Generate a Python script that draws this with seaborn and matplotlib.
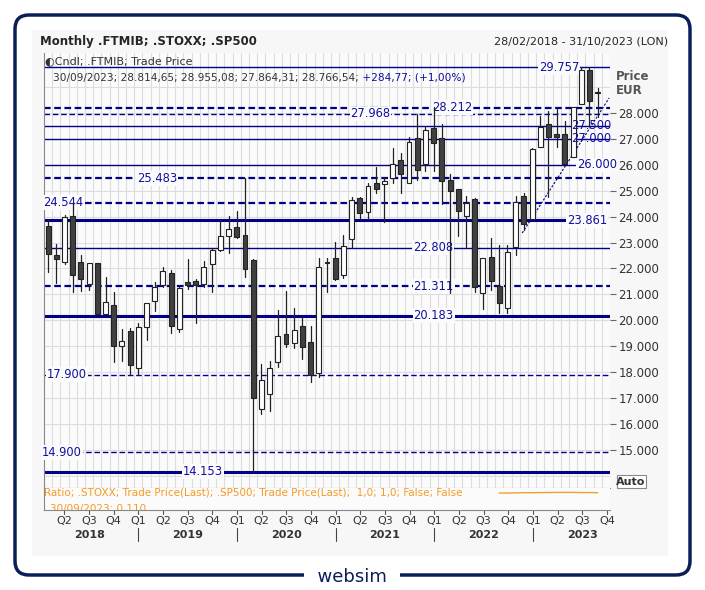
import matplotlib
matplotlib.use("Agg")
import matplotlib.pyplot as plt
from matplotlib.patches import FancyBboxPatch, Rectangle
import seaborn as sns
import pandas as pd
import numpy as np

sns.set_style("white")
plt.rcParams['font.family'] = ['DejaVu Sans']

months = pd.date_range("2018-02-01", "2023-09-01", freq="MS").strftime("%Y-%m").tolist()
opens = [23640,22505,22260,24025,22235,21385,22210,20240,20590,18990,19580,18170,
         19725,20755,21360,21810,19650,21460,21500,21385,22160,22710,23265,23600,
         23290,22325,16585,17140,18400,19455,19110,19780,19150,17950,22235,22390,
         21730,23120,24705,24190,25310,25245,25505,26185,25285,27020,26020,27410,
         27020,25415,25050,24036,24680,21037,22450,21320,20458,22840,24795,23894,
         26700,27575,27189,27189,26288,28347,29660,28814.65]
highs = [23870,22943,24060,24550,22520,22220,22210,21680,21080,19660,19710,19880,
         20665,21460,22070,21940,21270,22350,21580,22290,22780,23870,24020,24220,
         25480,22350,18310,18425,20395,21130,20485,20140,19780,22400,22390,23030,
         23300,24770,24770,25285,25900,25540,26660,26445,27085,27950,27470,28245,
         27575,25645,25050,24795,24705,22400,23160,22900,22900,24795,24898,26640,
         27880,28077,28141,27700,28218,29763,29763,28955.08]
lows = [21875,21450,22170,21100,21140,21170,20240,20240,18390,18430,17885,17940,
        19250,20370,21270,19520,19560,21220,19900,21300,21100,22670,22580,23190,
        21680,14150,16370,16510,18210,18980,18940,18515,17600,17795,21080,21550,
        21630,22775,23910,23910,24900,23805,25285,24925,25285,25415,25760,25760,
        24490,21040,23250,22840,21100,20420,21166,20265,20265,22517,23482,23894,
        26674,24743,26674,26030,26288,28347,27500,27864.31]
closes = [22557,22380,23970,21760,21600,22200,20240,20690,19020,19185,18280,19725,
          20665,21300,21900,19790,21230,21360,21380,22070,22700,23240,23510,23230,
          21960,17010,17680,18170,19390,19070,19610,18980,17900,22040,22195,21580,
          22865,24640,24130,25180,25080,25375,26020,25645,26880,25800,27345,26830,
          25390,25000,24230,24510,21295,22388,21526,20650,22646,24576,23714,26597,
          27470,27085,27060,26030,28218,29660,28482,28766.54]

level_values = [29757, 28212, 27968, 27500, 27000, 26000, 25483, 24544, 23861,
                22808, 21311, 20183, 17900, 14900, 14153]
level_labels = ["29.757", "28.212", "27.968", "27.500", "27.000", "26.000", "25.483",
                "24.544", "23.861", "22.808", "21.311", "20.183", "17.900", "14.900", "14.153"]
trend_x = [57.8, 68.4]
trend_y = [23368, 28580]
ratio_months = list(range(55, 68))
ratio_vals = [0.108, 0.108, 0.109, 0.110, 0.110, 0.111, 0.111, 0.112, 0.112, 0.112, 0.111, 0.111, 0.110]
ytick_vals = list(range(15000, 28001, 1000))
q_labels = ["Q2", "Q3", "Q4", "Q1"] * 5 + ["Q2", "Q3", "Q4"]
years = ["2018", "2019", "2020", "2021", "2022", "2023"]

df = pd.DataFrame({"m": months, "o": opens, "h": highs, "l": lows, "c": closes})
df["i"] = np.arange(len(df))

W, H = 705, 590
fig = plt.figure(figsize=(W/100, H/100), dpi=100)
fig.patch.set_facecolor("white")
NAVY = "#0a1e5a"
BLUE = "#1010a0"

def fx(px): return px / W
def fy(py): return 1 - py / H

bg = fig.add_axes([0, 0, 1, 1], zorder=-10)
bg.set_xlim(0, W); bg.set_ylim(H, 0); bg.axis("off")
bg.add_patch(FancyBboxPatch((15, 15), 675, 560, boxstyle="round,pad=0,rounding_size=14",
                            fc="white", ec=NAVY, lw=2.5))
bg.add_patch(Rectangle((32, 30), 636, 526, fc="#f7f7f7", ec="none"))
bg.text(40, 42, "Monthly .FTMIB; .STOXX; .SP500", fontsize=8.5, fontweight="bold", va="center")
bg.text(668, 42, "28/02/2018 - 31/10/2023 (LON)", fontsize=8, ha="right", va="center")
bg.text(616, 76, "Price", fontsize=8.5, fontweight="bold", color="#555555", va="center")
bg.text(616, 91, "EUR", fontsize=8.5, fontweight="bold", color="#555555", va="center")
bg.add_patch(Rectangle((617, 475), 29, 13, fc="white", ec="#888888", lw=0.8))
bg.text(631, 482, "Auto", fontsize=8, fontweight="bold", color="#333333", ha="center", va="center")
bg.text(352, 577, "  websim  ", fontsize=13, color=NAVY, ha="center", va="center",
        bbox=dict(fc="white", ec="none", pad=1))

ax = fig.add_axes([fx(44), fy(488), fx(610-44), (488-53)/H])
ax.set_facecolor("#fbfbfb")
XL = (-0.5, 68.5)
ax.set_xlim(*XL)
ax.set_ylim(13525, 30316)
for k in range(-1, 69):
    ax.axvline(k + 0.5, color="#dddddd", lw=0.8, zorder=0)
for v in ytick_vals + [14000, 29000]:
    ax.axhline(v, color="#dddddd", lw=0.8, zorder=0)

styles = {
    29757: ("-", 1.0, 1.0), 28212: ("--", 1.6, 1.0), 27968: ("--", 1.0, 1.0),
    27500: ("-", 1.0, 1.0), 27000: ("-", 1.0, 1.0), 26000: ("-", 1.0, 1.0),
    25483: ("--", 1.6, 1.0), 24544: ("--", 1.6, 1.0), 23861: ("-", 2.2, 0.94),
    22808: ("-", 1.0, 1.0), 21311: ("--", 1.6, 1.0), 20183: ("-", 2.2, 1.0),
    17900: ("--", 1.0, 1.0), 14900: ("--", 1.0, 1.0), 14153: ("-", 2.2, 1.0)}
label_x = {29757: 62.3, 28212: 49.3, 27968: 39.3, 27500: 66.2, 27000: 66.2, 26000: 66.9,
           25483: 13.3, 24544: 1.9, 23861: 65.7, 22808: 46.9, 21311: 47.0, 20183: 47.0,
           17900: 2.3, 14900: 1.7, 14153: 18.9}
on_top = {27500, 27000}
for v, lab in zip(level_values, level_labels):
    ls, lw, xmax = styles[v]
    dashes = (3, 1.6) if lw > 1.2 else (4, 2)
    line, = ax.plot([XL[0], XL[0] + (XL[1]-XL[0]) * xmax], [v, v], color="#000088", lw=lw, zorder=2)
    if ls == "--":
        line.set_dashes(dashes)
    if v in on_top:
        ax.text(label_x[v], v, lab, color=BLUE, fontsize=8.3, ha="center", va="center", zorder=8)
    else:
        ax.text(label_x[v], v, lab, color=BLUE, fontsize=8.3, ha="center", va="center", zorder=3,
                bbox=dict(fc="#fbfbfb", ec="none", pad=0.6), clip_on=False)

ax.plot(trend_x, trend_y, color="#000088", lw=0.8, ls=(0, (2, 1.5)), zorder=4)

for _, r in df.iterrows():
    up = r.c >= r.o
    ax.plot([r.i, r.i], [r.l, r.h], color="#222222", lw=0.9, zorder=5)
    lo, hi = min(r.o, r.c), max(r.o, r.c)
    hgt = max(hi - lo, 40)
    ax.add_patch(Rectangle((r.i - 0.3, lo), 0.6, hgt, fc="white" if up else "#404040",
                           ec="#222222", lw=0.8, zorder=6))

ax.yaxis.tick_right()
ax.set_yticks(ytick_vals)
ax.set_yticklabels([f"{v:,}".replace(",", ".") for v in ytick_vals], fontsize=8.5, color="#333333")
ax.tick_params(axis="y", length=4, color="#666666", pad=2)
ax.set_xticks([])
for s in ["top", "right"]:
    ax.spines[s].set_visible(False)
ax.spines["left"].set_color("#888888")
ax.spines["bottom"].set_color("#888888")
ax.text(0.002, 0.992, "\u25d0Cndl; .FTMIB; Trade Price", transform=ax.transAxes, fontsize=8,
        va="top", color="#333333")
t = ax.text(0.016, 0.955, "30/09/2023; 28.814,65; 28.955,08; 27.864,31; 28.766,54;",
            transform=ax.transAxes, fontsize=7.6, va="top", color="#333333")
ax.annotate(" +284,77; (+1,00%)", xy=(1, 0), xycoords=t, va="bottom", ha="left",
            fontsize=7.6, color=BLUE)

ax2 = fig.add_axes([fx(44), fy(510), fx(610-44), 22/H])
ax2.set_facecolor("#fbfbfb")
sns.lineplot(x=ratio_months, y=ratio_vals, ax=ax2, color="#f0a030", lw=1)
ax2.set_xlim(*XL); ax2.set_ylim(0.0, 0.14)
ax2.set_xticks([]); ax2.set_yticks([]); ax2.set_xlabel(""); ax2.set_ylabel("")
for s in ["top", "right"]:
    ax2.spines[s].set_visible(False)
ax2.spines["left"].set_color("#888888"); ax2.spines["bottom"].set_color("#888888")
ax2.text(0.0, 0.78, "Ratio; .STOXX; Trade Price(Last); .SP500; Trade Price(Last);  1,0; 1,0; False; False",
         transform=ax2.transAxes, fontsize=7.5, color="#f59a23", va="center")
ax2.text(0.01, 0.05, "30/09/2023; 0,110", transform=ax2.transAxes, fontsize=7.5, color="#f59a23",
         va="center", clip_on=True)

q_idx = list(range(2, 69, 3))
for k, lab in zip(q_idx, q_labels):
    xp = 48 + k * 8.22
    bg.plot([xp, xp], [510, 514], color="#555555", lw=0.8)
    bg.text(xp, 521, lab, fontsize=8, ha="center", va="center", color="#333333")
for j, y in enumerate(years):
    xp = 48 + (5 + 12 * j) * 8.22
    bg.text(xp, 535, y, fontsize=8, fontweight="bold", ha="center", va="center", color="#333333")
for k in [11, 23, 35, 47, 59]:
    xp = 48 + k * 8.22
    bg.plot([xp, xp], [528, 541], color="#444444", lw=0.8)

fig.savefig("out.png", dpi=100)
